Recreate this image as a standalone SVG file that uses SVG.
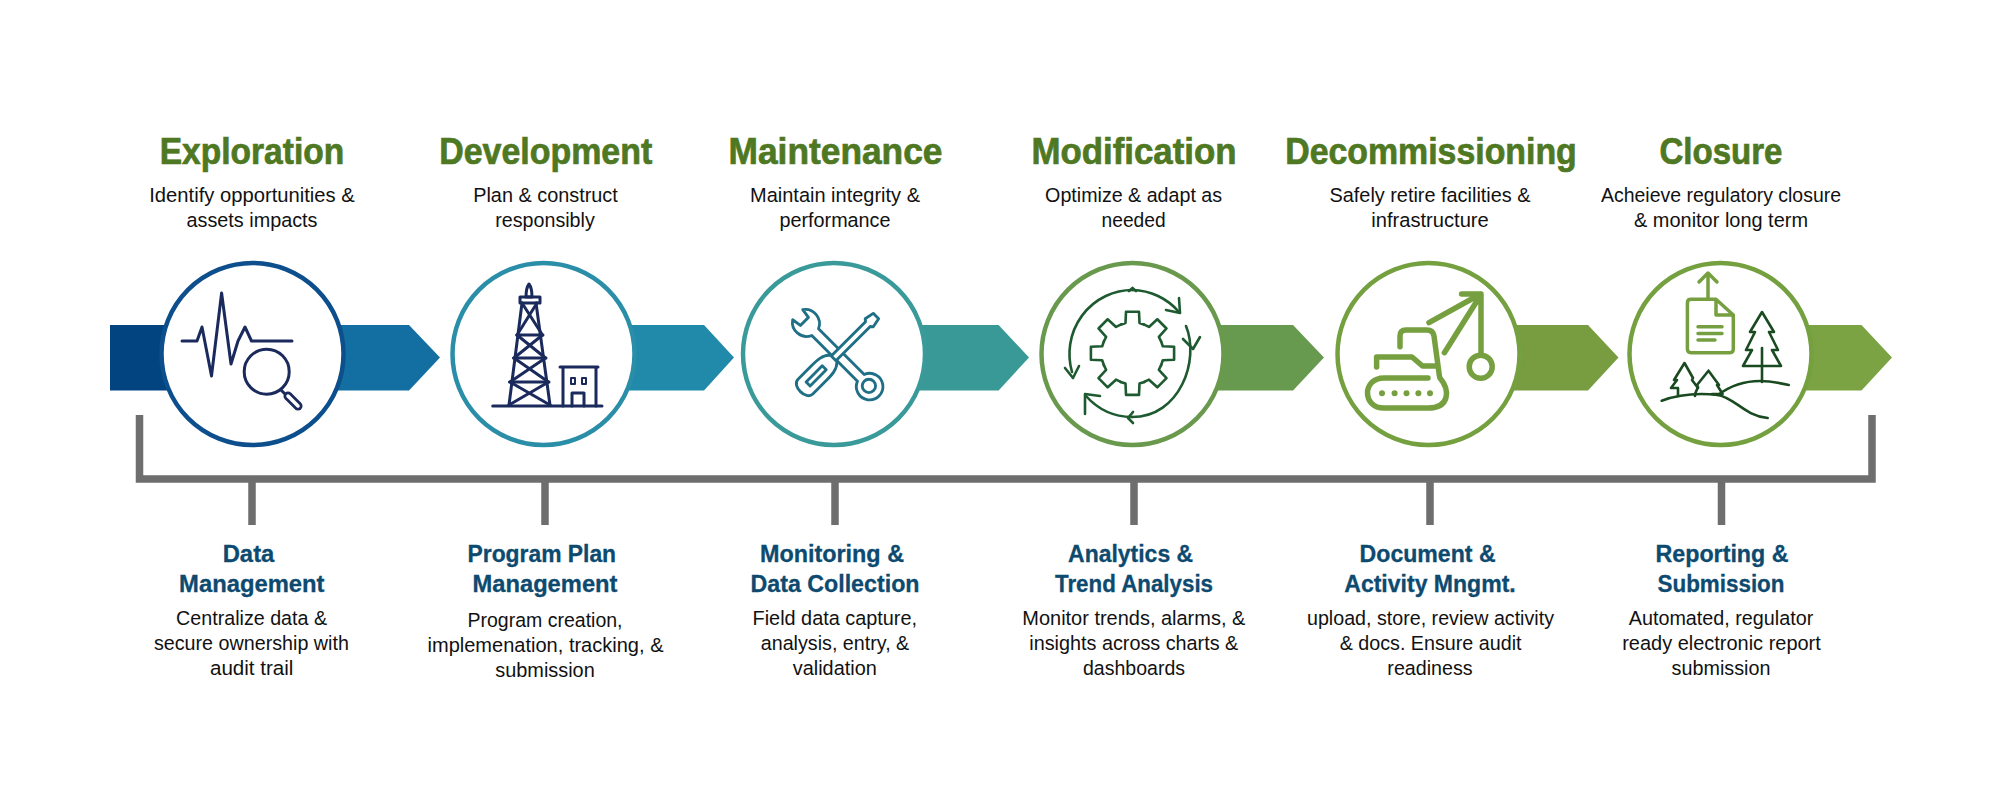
<svg xmlns="http://www.w3.org/2000/svg" xmlns:xlink="http://www.w3.org/1999/xlink" width="2000" height="793" viewBox="0 0 2000 793">
<style>
text{text-anchor:middle}
.h{font-family:"Liberation Sans Narrow","Liberation Sans",Arial,sans-serif;font-weight:700;font-size:36.500px;fill:#4f7823;stroke:#4f7823;stroke-width:.7px}
.s{font-family:"Liberation Sans Narrow","Liberation Sans",Arial,sans-serif;font-weight:700;font-size:23px;fill:#0d4a70;stroke:#0d4a70;stroke-width:.3px}
.b{font-family:"Liberation Sans Narrow","Liberation Sans",Arial,sans-serif;font-size:20.500px;fill:#111}
.c{fill:#fff;stroke-width:4.500}
.nv{fill:none;stroke:#1b2a5c;stroke-width:3;stroke-linecap:round;stroke-linejoin:round}
.te{fill:#fff;stroke:#1f6f86;stroke-width:3;stroke-linejoin:round}
.dg{fill:none;stroke:#1e5a30;stroke-width:2.600;stroke-linecap:round;stroke-linejoin:round}
.gr{fill:none;stroke:#76a040;stroke-width:5.500;stroke-linecap:round;stroke-linejoin:round}
.g6{fill:none;stroke:#76a040;stroke-width:3.500;stroke-linecap:round;stroke-linejoin:round}
.tr{fill:none;stroke:#1a4a20;stroke-width:2.600;stroke-linecap:round;stroke-linejoin:round}
</style>
<defs>
<linearGradient id="g1" gradientUnits="userSpaceOnUse" x1="165" y1="0" x2="345" y2="0"><stop offset="0" stop-color="#01447f"/><stop offset="1" stop-color="#136fa1"/></linearGradient>
<path id="tooth" d="M-11.900,-28.600 L-7,-30.300 L-6.500,-41.600 L6.500,-41.600 L7,-30.300 L11.900,-28.600"/>
</defs>
<rect width="2000" height="793" fill="#fff"/>
<g id="connectors">
<path d="M139.500,415 V479 H1872 V415" fill="none" stroke="#6e6e6e" stroke-width="7.500"/>
<path d="M252,479 V525 M545,479 V525 M835,479 V525 M1134,479 V525 M1430,479 V525 M1721.500,479 V525" fill="none" stroke="#6e6e6e" stroke-width="7.500"/>
</g>
<g id="node-exploration">
<polygon points="110,325 409,325 440,357.500 409,390.500 110,390.500" fill="url(#g1)"/>
<circle class="c" cx="252.500" cy="354" r="91" stroke="#0c4f8c"/>
<path class="nv" d="M182,341 H197 L202,327 L211.500,376 L221.600,293 L231,364 L238,341 L245,327 L251.500,341 H292"/>
<circle class="nv" cx="266.700" cy="371.700" r="22.500"/>
<path class="nv" d="M281,390 L286,395"/>
<path d="M288,396 L298,406" stroke="#1b2a5c" stroke-width="9" stroke-linecap="round" fill="none"/>
<path d="M288,396 L298,406" stroke="#fff" stroke-width="3.500" stroke-linecap="round" fill="none"/>
<text class="h" x="252" y="163.500" textLength="184.500" lengthAdjust="spacingAndGlyphs">Exploration</text>
<text class="b" x="252" y="201.500" textLength="205.500" lengthAdjust="spacingAndGlyphs">Identify opportunities &amp;</text>
<text class="b" x="252" y="226.500" textLength="131" lengthAdjust="spacingAndGlyphs">assets impacts</text>
<text class="s" x="248.500" y="561.500" textLength="51.700" lengthAdjust="spacingAndGlyphs">Data</text>
<text class="s" x="251.800" y="591.500" textLength="145.400" lengthAdjust="spacingAndGlyphs">Management</text>
<text class="b" x="251.600" y="624.500" textLength="151" lengthAdjust="spacingAndGlyphs">Centralize data &amp;</text>
<text class="b" x="251.400" y="649.500" textLength="195" lengthAdjust="spacingAndGlyphs">secure ownership with</text>
<text class="b" x="251.700" y="674.500" textLength="83.500" lengthAdjust="spacingAndGlyphs">audit trail</text>
</g>
<g id="node-development">
<polygon points="540,325 704,325 734,357.500 704,390.500 540,390.500" fill="#2189a9"/>
<circle class="c" cx="543.500" cy="354" r="91" stroke="#2a8ea8" stroke-width="5.500"/>
<g class="nv">
<path d="M492.700,406 H602"/>
<path d="M529,284 C526,288 526,292 526,297 H532 C532,292 532,288 529,284Z"/>
<path d="M520,297 H540 V303 H520Z"/>
<path d="M522,303 L509,405 M536,303 L550,405"/>
<path d="M516.700,335 H543 M513.500,358 H546 M509.500,382 H549"/>
<path d="M522,303 L542.500,335 M537,303 L517,335 M517,335 L545.500,358 M542.500,335 L514,358 M514,358 L548.500,382 M545.500,358 L510,382 M510,382 L550,405 M548.500,382 L509,405"/>
<path d="M563,406 V367 H596 V406 M560,367 H598"/>
<rect x="571" y="378" width="4" height="6" stroke-width="2"/>
<rect x="582" y="378" width="4" height="6" stroke-width="2"/>
<path d="M572,406 V393 H584 V406"/>
</g>
<text class="h" x="545.700" y="163.500" textLength="213" lengthAdjust="spacingAndGlyphs">Development</text>
<text class="b" x="545.500" y="201.500" textLength="144.600" lengthAdjust="spacingAndGlyphs">Plan &amp; construct</text>
<text class="b" x="545" y="226.500" textLength="99.500" lengthAdjust="spacingAndGlyphs">responsibly</text>
<text class="s" x="541.800" y="561.500" textLength="148.500" lengthAdjust="spacingAndGlyphs">Program Plan</text>
<text class="s" x="545" y="591.500" textLength="145" lengthAdjust="spacingAndGlyphs">Management</text>
<text class="b" x="545" y="626.500" textLength="155" lengthAdjust="spacingAndGlyphs">Program creation,</text>
<text class="b" x="545.500" y="651.500" textLength="236" lengthAdjust="spacingAndGlyphs">implemenation, tracking, &amp;</text>
<text class="b" x="545" y="676.500" textLength="99.500" lengthAdjust="spacingAndGlyphs">submission</text>
</g>
<g id="node-maintenance">
<polygon points="830,325 998.600,325 1029,357.500 998.600,390.500 830,390.500" fill="#399996"/>
<circle class="c" cx="834" cy="354" r="91" stroke="#3a9a9a" stroke-width="4"/>
<g transform="translate(838,355) rotate(45) scale(.95)">
<path class="te" d="M-34,-5 A15,15 0 0 0 -60,-7.500 L-50,-6 L-50,6 L-60,7.500 A15,15 0 0 0 -34,5 L34,5 A14,14 0 1 0 34,-5 Z"/>
<circle class="te" cx="46" cy="0" r="7"/>
</g>
<g transform="translate(839,353) rotate(-45) scale(.95)">
<path class="te" d="M-10,-3.500 L43,-3.500 L45,-6 L55,-4 L55,4 L45,6 L43,3.500 L-10,3.500 Z"/>
<path class="te" d="M-8,-5 C-14,-11 -22,-11 -30,-11 L-50,-11 C-60,-11 -60,11 -50,11 L-30,11 C-22,11 -14,11 -8,5 Z"/>
<path class="te" d="M-46,-3 H-22 V3 H-46 Z" stroke-width="2.200"/>
</g>
<text class="h" x="835.500" y="163.500" textLength="214" lengthAdjust="spacingAndGlyphs">Maintenance</text>
<text class="b" x="835" y="201.500" textLength="170" lengthAdjust="spacingAndGlyphs">Maintain integrity &amp;</text>
<text class="b" x="835" y="226.500" textLength="111" lengthAdjust="spacingAndGlyphs">performance</text>
<text class="s" x="832" y="561.500" textLength="144" lengthAdjust="spacingAndGlyphs">Monitoring &amp;</text>
<text class="s" x="835" y="591.500" textLength="169" lengthAdjust="spacingAndGlyphs">Data Collection</text>
<text class="b" x="834.800" y="624.500" textLength="164.500" lengthAdjust="spacingAndGlyphs">Field data capture,</text>
<text class="b" x="835" y="649.500" textLength="148.500" lengthAdjust="spacingAndGlyphs">analysis, entry, &amp;</text>
<text class="b" x="834.800" y="674.500" textLength="84" lengthAdjust="spacingAndGlyphs">validation</text>
</g>
<g id="node-modification">
<polygon points="1125,325 1293,325 1324,357.500 1293,390.500 1125,390.500" fill="#67994f"/>
<circle class="c" cx="1132.500" cy="354" r="91" stroke="#68994d"/>
<g class="dg" transform="translate(1132.500,353.300)">
<use xlink:href="#tooth" href="#tooth"/>
<use xlink:href="#tooth" href="#tooth" transform="rotate(45)"/>
<use xlink:href="#tooth" href="#tooth" transform="rotate(90)"/>
<use xlink:href="#tooth" href="#tooth" transform="rotate(135)"/>
<use xlink:href="#tooth" href="#tooth" transform="rotate(180)"/>
<use xlink:href="#tooth" href="#tooth" transform="rotate(225)"/>
<use xlink:href="#tooth" href="#tooth" transform="rotate(270)"/>
<use xlink:href="#tooth" href="#tooth" transform="rotate(315)"/>
</g>
<g class="dg">
<path d="M1132.500,290 A63,64 0 0 0 1072,372"/>
<path d="M1132.500,290 A63,64 0 0 1 1179,312"/>
<path d="M1186,326 C1200,360 1180,417 1132,417"/>
<path d="M1132,417 A63,64 0 0 1 1086,396"/>
<path d="M1065,368 L1073,378 L1079,366"/>
<path d="M1179,298 L1180,313 L1166,310"/>
<path d="M1183,339 L1193,349 L1200,337"/>
<path d="M1085,414 L1085,394 L1100,396"/>
<path d="M1132.500,288 L1129,291 M1132.500,288 L1136,291 M1133,412 L1128,418 L1133,423"/>
</g>
<text class="h" x="1134" y="163.500" textLength="205" lengthAdjust="spacingAndGlyphs">Modification</text>
<text class="b" x="1133.600" y="201.500" textLength="177" lengthAdjust="spacingAndGlyphs">Optimize &amp; adapt as</text>
<text class="b" x="1133.600" y="226.500" textLength="64" lengthAdjust="spacingAndGlyphs">needed</text>
<text class="s" x="1130.600" y="561.500" textLength="125" lengthAdjust="spacingAndGlyphs">Analytics &amp;</text>
<text class="s" x="1134" y="591.500" textLength="158" lengthAdjust="spacingAndGlyphs">Trend Analysis</text>
<text class="b" x="1133.800" y="624.500" textLength="223" lengthAdjust="spacingAndGlyphs">Monitor trends, alarms, &amp;</text>
<text class="b" x="1133.800" y="649.500" textLength="209" lengthAdjust="spacingAndGlyphs">insights across charts &amp;</text>
<text class="b" x="1134" y="674.500" textLength="102" lengthAdjust="spacingAndGlyphs">dashboards</text>
</g>
<g id="node-decommissioning">
<polygon points="1420,325 1588,325 1618.500,357.500 1588,390.500 1420,390.500" fill="#789d41"/>
<circle class="c" cx="1428.500" cy="354" r="91" stroke="#75a040"/>
<g class="gr">
<path d="M1428,378 H1384 C1362,378 1362,408 1384,408 H1428 C1450,408 1450,390 1440,378"/>
<path d="M1376.600,367 V357 H1412 L1422.500,366 H1436"/>
<path d="M1400,346.700 V336 Q1400,330 1406,330 H1427 Q1433,330 1434,336 L1439.400,376"/>
<path d="M1429,322.700 L1480.700,294 M1444.400,352.700 L1480.700,295 M1461.600,294 H1481 V353"/>
<circle cx="1480.700" cy="366.700" r="11.500"/>
</g>
<g fill="#76a040"><circle cx="1382" cy="393.300" r="3"/><circle cx="1394.600" cy="393.300" r="3"/><circle cx="1406.500" cy="393.300" r="3"/><circle cx="1418.400" cy="393.300" r="3"/><circle cx="1430" cy="393.300" r="3"/></g>
<text class="h" x="1431" y="163.500" textLength="291.600" lengthAdjust="spacingAndGlyphs">Decommissioning</text>
<text class="b" x="1430" y="201.500" textLength="201" lengthAdjust="spacingAndGlyphs">Safely retire facilities &amp;</text>
<text class="b" x="1430" y="226.500" textLength="117.500" lengthAdjust="spacingAndGlyphs">infrastructure</text>
<text class="s" x="1427.600" y="561.500" textLength="136" lengthAdjust="spacingAndGlyphs">Document &amp;</text>
<text class="s" x="1430" y="591.500" textLength="171.500" lengthAdjust="spacingAndGlyphs">Activity Mngmt.</text>
<text class="b" x="1430.500" y="624.500" textLength="247" lengthAdjust="spacingAndGlyphs">upload, store, review activity</text>
<text class="b" x="1430.600" y="649.500" textLength="181.800" lengthAdjust="spacingAndGlyphs">&amp; docs. Ensure audit</text>
<text class="b" x="1430" y="674.500" textLength="85.300" lengthAdjust="spacingAndGlyphs">readiness</text>
</g>
<g id="node-closure">
<polygon points="1715,325 1861.500,325 1892,357.500 1861.500,390.500 1715,390.500" fill="#7ba343"/>
<circle class="c" cx="1720.500" cy="354" r="91" stroke="#75a040"/>
<g class="g6">
<path d="M1716,299.300 H1691 Q1687.400,299.300 1687.400,303 V349 Q1687.400,352.700 1691,352.700 H1730 Q1733.300,352.700 1733.300,349 V315 L1716,299.300 V315 H1733.300"/>
<path d="M1708,299 V274 M1699,282 L1708,273 L1717,282"/>
<path d="M1698,326.700 H1722 M1698,333.500 H1722 M1698,340 H1715"/>
</g>
<g class="tr">
<path d="M1762,312 L1750,332 H1755 L1746,350 H1752 L1743,366 H1781 L1772,350 H1778 L1769,332 H1774 Z"/>
<path d="M1762,348 V382"/>
<path d="M1684.500,363 L1674,380 H1677 L1671,388 H1678 V396 M1684.500,363 L1693,378 L1692,380 L1698,388"/>
<path d="M1708.500,370.700 L1697,385 L1698,387 L1695,394 V396 M1708.500,370.700 L1719,385 H1717 L1722.600,394 H1712"/>
<path d="M1661.700,400.700 C1680,394 1700,393 1718,395 C1735,398 1745,416 1767.700,418"/>
<path d="M1718,395 C1730,386 1745,381 1760,381 C1770,381 1780,383 1788.800,385"/>
</g>
<text class="h" x="1721" y="163.500" textLength="123" lengthAdjust="spacingAndGlyphs">Closure</text>
<text class="b" x="1721" y="201.500" textLength="240" lengthAdjust="spacingAndGlyphs">Acheieve regulatory closure</text>
<text class="b" x="1721" y="226.500" textLength="174" lengthAdjust="spacingAndGlyphs">&amp; monitor long term</text>
<text class="s" x="1722" y="561.500" textLength="133" lengthAdjust="spacingAndGlyphs">Reporting &amp;</text>
<text class="s" x="1721" y="591.500" textLength="127" lengthAdjust="spacingAndGlyphs">Submission</text>
<text class="b" x="1721" y="624.500" textLength="184.500" lengthAdjust="spacingAndGlyphs">Automated, regulator</text>
<text class="b" x="1721.500" y="649.500" textLength="198.600" lengthAdjust="spacingAndGlyphs">ready electronic report</text>
<text class="b" x="1721" y="674.500" textLength="98.800" lengthAdjust="spacingAndGlyphs">submission</text>
</g>
</svg>
